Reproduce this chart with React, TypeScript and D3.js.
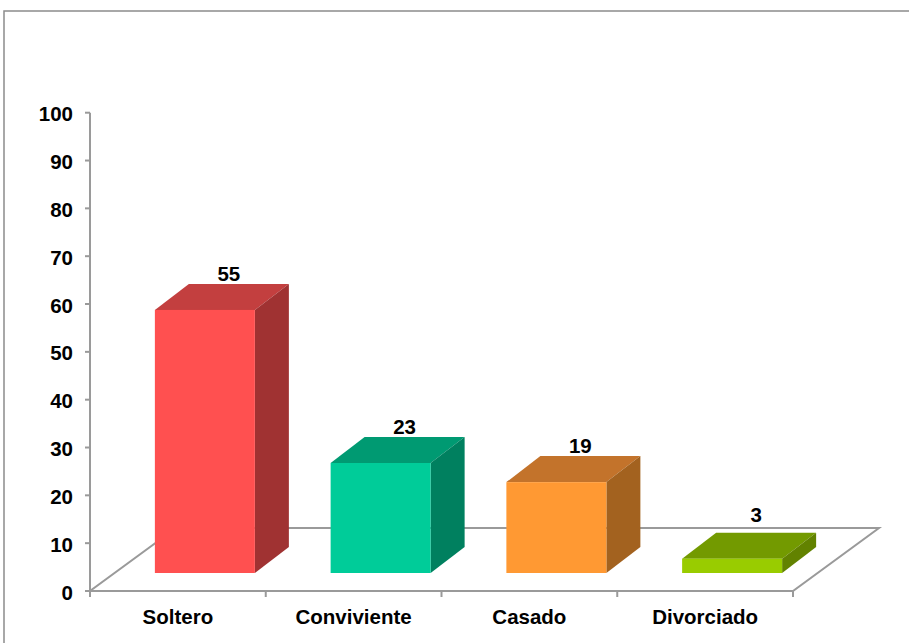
import React from "react";
import * as d3 from "d3";

const categories = ["Soltero", "Conviviente", "Casado", "Divorciado"];
const values = [55, 23, 19, 3];
const yTicks = [0, 10, 20, 30, 40, 50, 60, 70, 80, 90, 100];
const frontColors = ["#FF5050", "#00CC99", "#FF9933", "#99CC00"];
const topColors = ["#C33F3F", "#009A72", "#C3732B", "#739A00"];
const sideColors = ["#A03232", "#00805F", "#A3621F", "#628200"];

export default function App() {
  const W = 909, H = 643;
  const axisX = 90, floorFrontY = 591, floorRight = 793;
  const floorDX = 86, floorDY = 63;
  const y = d3.scaleLinear().domain([0, 100]).range([591, 112.7]);
  const x = d3.scaleBand().domain(categories).range([axisX, floorRight]);
  const pxPerUnit = y(0) - y(1);
  const shiftX = 27, shiftY = 18; // bar front plane offset into floor
  const barW = 100;
  const depthX = 34, depthY = 26;
  const floorBackY = floorFrontY - floorDY;
  const font = "'Liberation Sans', Arial, sans-serif";
  const axisColor = "#9a9a9a";
  const fs = 20.5;

  const bars = categories.map((c, i) => {
    const bandStart = x(c)!;
    const left = bandStart + (x.bandwidth() - barW) / 2 + shiftX;
    const right = left + barW;
    const bottom = floorFrontY - shiftY;
    const top = bottom - values[i] * pxPerUnit;
    return { c, i, left, right, bottom, top };
  });

  return (
    <svg width={W} height={H} style={{ position: "absolute", left: 0, top: 0, background: "#fff" }}>
      <rect x={4} y={11} width={W + 20} height={H + 20} fill="#fff" stroke="#8c8c8c" strokeWidth={1.5} />
      {/* floor */}
      <polygon
        points={`${axisX},${floorFrontY} ${floorRight},${floorFrontY} ${floorRight + floorDX},${floorBackY} ${axisX + floorDX},${floorBackY}`}
        fill="none"
        stroke={axisColor}
        strokeWidth={2}
      />
      {/* y axis */}
      <line x1={axisX} x2={axisX} y1={y(100)} y2={y(0)} stroke={axisColor} strokeWidth={2} />
      {yTicks.map((t) => (
        <g key={t}>
          <line x1={axisX - 5} x2={axisX} y1={y(t)} y2={y(t)} stroke={axisColor} strokeWidth={2} />
          <text x={73} y={y(t) + 8.5} textAnchor="end" fontFamily={font} fontWeight="bold" fontSize={fs} fill="#000">
            {t}
          </text>
        </g>
      ))}
      {/* x ticks */}
      {[...categories.map((c) => x(c)!), floorRight].map((xx, k) => (
        <line key={k} x1={xx} x2={xx} y1={floorFrontY} y2={floorFrontY + 6} stroke={axisColor} strokeWidth={2} />
      ))}
      {categories.map((c) => (
        <text key={c} x={x(c)! + x.bandwidth() / 2} y={624} textAnchor="middle" fontFamily={font} fontWeight="bold" fontSize={fs} fill="#000">
          {c}
        </text>
      ))}
      {/* bars */}
      {bars.map((b) => (
        <g key={b.c}>
          <polygon
            points={`${b.left},${b.top} ${b.right},${b.top} ${b.right + depthX},${b.top - depthY} ${b.left + depthX},${b.top - depthY}`}
            fill={topColors[b.i]}
          />
          <polygon
            points={`${b.right},${b.top} ${b.right + depthX},${b.top - depthY} ${b.right + depthX},${b.bottom - depthY} ${b.right},${b.bottom}`}
            fill={sideColors[b.i]}
          />
          <rect x={b.left} y={b.top} width={barW} height={b.bottom - b.top} fill={frontColors[b.i]} />
          <text
            x={(b.left + b.right) / 2 + 24}
            y={Math.min(b.top - depthY - 3, floorBackY - 6)}
            textAnchor="middle"
            fontFamily={font}
            fontWeight="bold"
            fontSize={fs}
            fill="#000"
          >
            {values[b.i]}
          </text>
        </g>
      ))}
    </svg>
  );
}
